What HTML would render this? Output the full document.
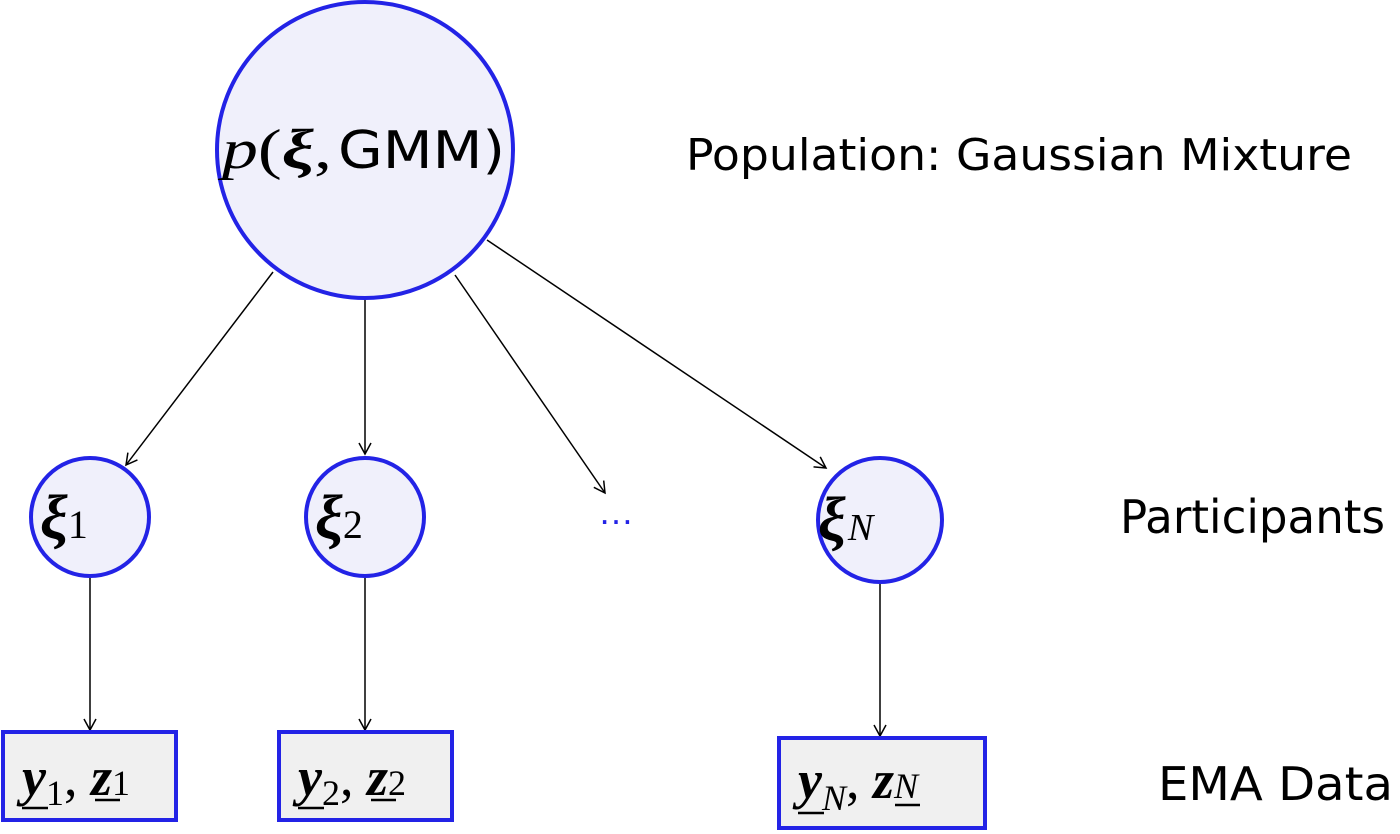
<!DOCTYPE html>
<html><head><meta charset="utf-8"><style>
html,body{margin:0;padding:0;background:#fff}
svg{display:block}
.m{font-family:"Liberation Serif",serif;font-style:italic;font-weight:bold;fill:#000}
.s{font-family:"Liberation Serif",serif;font-style:normal;font-weight:normal}
.l{font-family:"DejaVu Sans","Liberation Sans",sans-serif;fill:#000}
</style></head><body>
<svg width="1400" height="834" viewBox="0 0 1400 834" xmlns="http://www.w3.org/2000/svg">
<defs><marker id="a" markerWidth="14" markerHeight="14" refX="12" refY="7" orient="auto" markerUnits="userSpaceOnUse"><path d="M1,1 L12,7 L1,13" fill="none" stroke="#000" stroke-width="1.5"/></marker></defs>
<g stroke="#000" stroke-width="1.5" fill="none" marker-end="url(#a)">
<line x1="273" y1="272" x2="126" y2="465"/>
<line x1="365" y1="300" x2="365" y2="454"/>
<line x1="455" y1="275" x2="605" y2="493"/>
<line x1="487" y1="240" x2="826" y2="468"/>
<line x1="90" y1="578" x2="90" y2="730"/>
<line x1="365" y1="578" x2="365" y2="730"/>
<line x1="880" y1="583" x2="880" y2="736"/>
</g>
<circle cx="365" cy="150" r="148" fill="#f0f0fb" stroke="#2323e6" stroke-width="4"/>
<circle cx="90" cy="517" r="59" fill="#f0f0fb" stroke="#2323e6" stroke-width="4"/>
<circle cx="365" cy="517" r="59" fill="#f0f0fb" stroke="#2323e6" stroke-width="4"/>
<circle cx="880" cy="520" r="62" fill="#f0f0fb" stroke="#2323e6" stroke-width="4"/>
<rect x="3" y="732" width="173" height="88" fill="#f0f0f0" stroke="#2323e6" stroke-width="4"/>
<rect x="279" y="732" width="173" height="88" fill="#f0f0f0" stroke="#2323e6" stroke-width="4"/>
<rect x="779" y="738" width="206" height="90" fill="#f0f0f0" stroke="#2323e6" stroke-width="4"/>
<text x="222" y="168" font-size="56" class="m" textLength="110" lengthAdjust="spacingAndGlyphs"><tspan font-weight="normal">p</tspan><tspan class="s">(</tspan>ξ<tspan class="s">,</tspan></text>
<text x="338" y="168" font-size="52" class="l" textLength="167" lengthAdjust="spacingAndGlyphs">GMM)</text>
<text x="40" y="538" font-size="62" class="m">ξ<tspan class="s" font-size="40">1</tspan></text>
<text x="315" y="538" font-size="62" class="m">ξ<tspan class="s" font-size="40">2</tspan></text>
<text x="818" y="540" font-size="62" class="m">ξ<tspan font-weight="normal" font-size="38" dx="2">N</tspan></text>
<text x="598" y="524" font-size="36" fill="#2323e6" font-family="Liberation Sans,sans-serif">…</text>
<g class="m" font-size="54">
<text x="22" y="795">y<tspan class="s" font-size="36" dy="10">1</tspan><tspan class="s" dy="-10">,</tspan> z<tspan class="s" font-size="36">1</tspan></text>
<text x="298" y="795">y<tspan class="s" font-size="36" dy="10">2</tspan><tspan class="s" dy="-10">,</tspan> z<tspan class="s" font-size="36">2</tspan></text>
<text x="798" y="798">y<tspan font-weight="normal" font-size="36" dy="12">N</tspan><tspan class="s" dy="-12">,</tspan> z<tspan font-weight="normal" font-size="36">N</tspan></text>
</g>
<g stroke="#000" stroke-width="2.5">
<line x1="22" y1="808" x2="48" y2="808"/><line x1="95" y1="800" x2="120" y2="800"/>
<line x1="298" y1="808" x2="324" y2="808"/><line x1="371" y1="800" x2="396" y2="800"/>
<line x1="798" y1="813" x2="824" y2="813"/><line x1="895" y1="805" x2="920" y2="805"/>
</g>
<text x="686" y="170" font-size="44" class="l" textLength="666" lengthAdjust="spacingAndGlyphs">Population:  Gaussian Mixture</text>
<text x="1120" y="533" font-size="46" class="l" textLength="265" lengthAdjust="spacingAndGlyphs">Participants</text>
<text x="1158" y="800" font-size="46" class="l" textLength="235" lengthAdjust="spacingAndGlyphs">EMA Data</text>
</svg>
</body></html>
